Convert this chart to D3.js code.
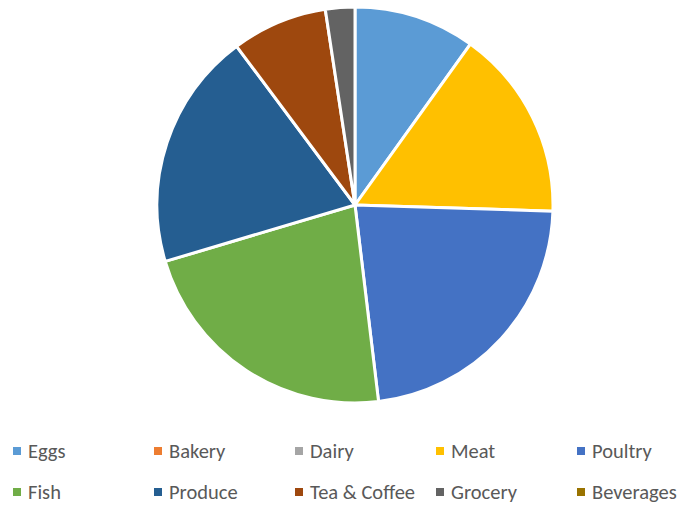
<!DOCTYPE html>
<html>
<head>
<meta charset="utf-8">
<script src="https://cdn.jsdelivr.net/npm/d3@7"></script>
<style>
  body { margin: 0; background: #fff; }
</style>
</head>
<body>
<svg id="chart"></svg>
<script>
const categories = ['Eggs', 'Bakery', 'Dairy', 'Meat', 'Poultry', 'Fish', 'Produce', 'Tea & Coffee', 'Grocery', 'Beverages']
const values = [9.9, 0, 0, 15.6, 22.6, 22.3, 19.4, 7.8, 2.4, 0]
const colors = ['#5b9bd5', '#ed7d31', '#a5a5a5', '#ffc000', '#4472c4', '#70ad47', '#255e91', '#9e480e', '#636363', '#997300']

const width = 685
const height = 505
const cx = 355
const cy = 205
const radius = 198

const svg = d3.select('#chart')
  .attr('width', width)
  .attr('height', height)

const color = d3.scaleOrdinal()
  .domain(categories)
  .range(colors)

const data = categories.map((c, i) => ({ key: c, value: values[i] }))

const pie = d3.pie()
  .sort(null)
  .value(d => d.value)

const arc = d3.arc()
  .innerRadius(0)
  .outerRadius(radius)

const slices = svg.append('g')
  .attr('transform', `translate(${cx}, ${cy})`)

slices.selectAll('path')
  .data(pie(data).filter(d => d.data.value > 0))
  .enter()
  .append('path')
  .attr('d', arc)
  .attr('fill', d => color(d.data.key))
  .attr('stroke', '#fff')
  .attr('stroke-width', 3)
  .attr('stroke-linejoin', 'round')

// legend: 5 columns, 2 rows
const colX = d3.scaleLinear().domain([0, 4]).range([13, 577])
const rowY = d3.scaleLinear().domain([0, 1]).range([451, 492])

const legend = svg.append('g')
  .attr('font-family', 'Carlito, Lato, sans-serif')
  .attr('font-size', '20.5px')
  .attr('fill', '#595959')

const items = legend.selectAll('g')
  .data(categories)
  .enter()
  .append('g')
  .attr('transform', (d, i) => `translate(${colX(i % 5)}, ${rowY(Math.floor(i / 5))})`)

items.append('rect')
  .attr('x', 0)
  .attr('y', -4)
  .attr('width', 8)
  .attr('height', 8)
  .attr('fill', d => color(d))

items.append('text')
  .attr('x', 15)
  .attr('y', 0)
  .attr('dy', '0.33em')
  .text(d => d)
</script>
</body>
</html>
